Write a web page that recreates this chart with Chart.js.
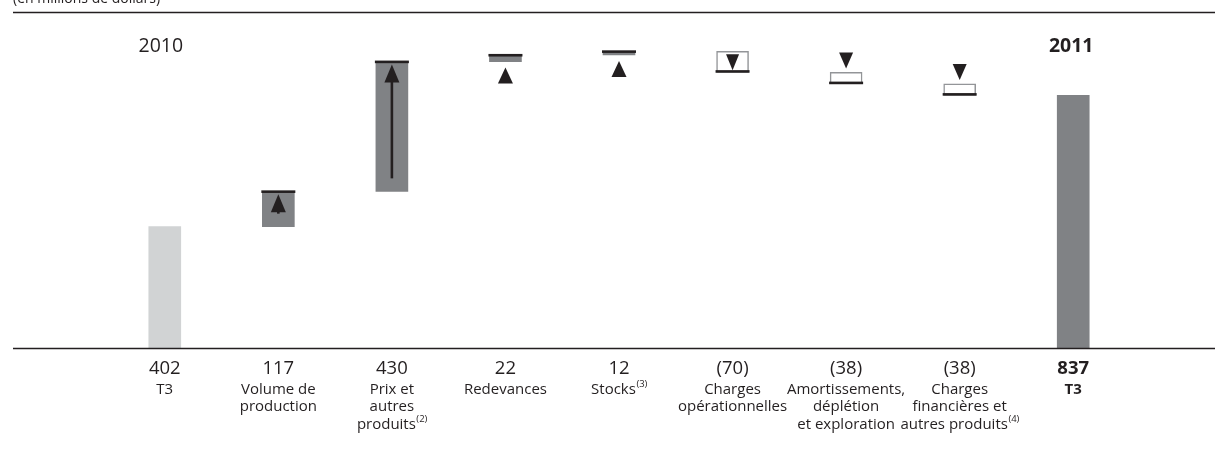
<!DOCTYPE html>
<html>
<head>
<meta charset="utf-8">
<script src="https://cdn.jsdelivr.net/npm/chart.js@4/dist/chart.umd.min.js"></script>
<style>
  html, body { margin: 0; padding: 0; background: #ffffff; }
  #wrap { width: 1215px; height: 459px; position: relative; }
  canvas { display: block; }
</style>
</head>
<body>
<div id="wrap"><canvas id="bridge" width="1215" height="459"></canvas></div>
<script>
// Bénéfice net – passage de T3 2010 à T3 2011 (en millions de dollars)
const categories = ["T3", "Volume de production", "Prix et autres produits", "Redevances", "Stocks",
  "Charges opérationnelles", "Amortissements, déplétion et exploration",
  "Charges financières et autres produits", "T3"];
const labelLines = [
  ["T3"],
  ["Volume de", "production"],
  ["Prix et", "autres", "produits"],
  ["Redevances"],
  ["Stocks"],
  ["Charges", "opérationnelles"],
  ["Amortissements,", "déplétion", "et exploration"],
  ["Charges", "financières et", "autres produits"],
  ["T3"]
];
const footnotes = [null, null, "(2)", null, "(3)", null, null, "(4)", null];
const startValue = 402;
const changes = [117, 430, 22, 12, -70, -38, -38];
const endValue = 837;
const yearLabels = ["2010", "2011"];
const unitNote = "(en millions de dollars)";

const INK = "#231f20";
const FONT = "'Open Sans', 'Noto Sans', sans-serif";
const LABEL_PX = 15;

// floating ranges for the bridge
const ranges = [[0, startValue]];
const kinds = ["start"];
let running = startValue;
changes.forEach(d => {
  const next = running + d;
  ranges.push([Math.min(running, next), Math.max(running, next)]);
  kinds.push(d >= 0 ? "up" : "down");
  running = next;
});
ranges.push([0, endValue]);
kinds.push("end");
const valueText = [startValue, ...changes, endValue].map(v => v < 0 ? "(" + Math.abs(v) + ")" : String(v));

const fill = kinds.map(k => k === "start" ? "#d1d3d4" : k === "down" ? "#ffffff" : "#808285");
const border = kinds.map(k => k === "down" ? "#939598" : "rgba(0,0,0,0)");

function triangle(ctx, cx, yTop, w, h, pointUp) {
  ctx.beginPath();
  if (pointUp) {
    ctx.moveTo(cx, yTop); ctx.lineTo(cx + w / 2, yTop + h); ctx.lineTo(cx - w / 2, yTop + h);
  } else {
    ctx.moveTo(cx - w / 2, yTop); ctx.lineTo(cx + w / 2, yTop); ctx.lineTo(cx, yTop + h);
  }
  ctx.closePath();
  ctx.fill();
}

const bridgeDecor = {
  id: "bridgeDecor",
  afterDatasetsDraw(chart) {
    const ctx = chart.ctx;
    const xs = chart.scales.x, ys = chart.scales.y;
    const meta = chart.getDatasetMeta(0);
    ctx.save();

    // unit note and rules
    ctx.fillStyle = INK;
    ctx.font = "14px " + FONT;
    ctx.textAlign = "left";
    ctx.textBaseline = "alphabetic";
    ctx.fillText(unitNote, 13, 3);
    ctx.strokeStyle = INK;
    ctx.lineWidth = 1.3;
    ctx.beginPath(); ctx.moveTo(13, 12.5); ctx.lineTo(1215, 12.5); ctx.stroke();
    const y0 = ys.getPixelForValue(0);
    ctx.beginPath(); ctx.moveTo(13, y0 + 0.5); ctx.lineTo(1215, y0 + 0.5); ctx.stroke();

    // markers on each change
    kinds.forEach((k, i) => {
      if (k === "start" || k === "end") return;
      const bar = meta.data[i];
      const cx = xs.getPixelForValue(i);
      const half = bar.width / 2;
      const d = changes[i - 1];
      const before = ranges[i][d >= 0 ? 0 : 1];
      const after = ranges[i][d >= 0 ? 1 : 0];
      const yBefore = ys.getPixelForValue(before);
      const yAfter = ys.getPixelForValue(after);
      const hPix = Math.abs(yBefore - yAfter);
      ctx.fillStyle = INK;
      // dark rule at the new running total
      ctx.fillRect(cx - half - 1, (d >= 0 ? yAfter - 1 : yAfter - 2.3), bar.width + 2, 2.6);
      if (d >= 0) {
        if (hPix > 25) {
          const headTop = yAfter + 3;
          triangle(ctx, cx, headTop, 15, 18, true);
          ctx.fillRect(cx - 1.3, headTop + 17, 2.6, Math.max(0, yBefore - 13 - (headTop + 17)));
        } else {
          triangle(ctx, cx, yBefore + 6, 15, 16, true);
        }
      } else {
        if (hPix > 20) {
          triangle(ctx, cx, yBefore + 3, 13, 16, false);
        } else {
          triangle(ctx, cx, yBefore - 20, 14, 16, false);
        }
      }
    });

    // year headings
    ctx.fillStyle = INK;
    ctx.textAlign = "center";
    ctx.textBaseline = "middle";
    ctx.font = "19.5px " + FONT;
    ctx.fillText(yearLabels[0], xs.getPixelForValue(0) - 4, 46);
    ctx.font = "bold 19.5px " + FONT;
    ctx.fillText(yearLabels[1], xs.getPixelForValue(categories.length - 1) - 2, 46);

    // values and category names below the axis
    categories.forEach((c, i) => {
      const cx = xs.getPixelForValue(i);
      const bold = i === categories.length - 1 ? "bold " : "";
      ctx.textAlign = "center";
      ctx.textBaseline = "middle";
      ctx.fillStyle = INK;
      ctx.font = bold + "18.5px " + FONT;
      ctx.fillText(valueText[i], cx, 369);
      ctx.font = bold + LABEL_PX + "px " + FONT;
      const lines = labelLines[i];
      lines.forEach((ln, j) => {
        const y = 389.5 + j * 17.5;
        const note = (j === lines.length - 1) ? footnotes[i] : null;
        if (note) {
          ctx.font = LABEL_PX + "px " + FONT;
          const w1 = ctx.measureText(ln).width;
          ctx.font = "9.5px " + FONT;
          const w2 = ctx.measureText(note).width;
          const left = cx - (w1 + w2) / 2;
          ctx.textAlign = "left";
          ctx.font = LABEL_PX + "px " + FONT;
          ctx.fillText(ln, left, y);
          ctx.font = "9.5px " + FONT;
          ctx.fillText(note, left + w1 + 0.5, y - 5);
          ctx.textAlign = "center";
        } else {
          ctx.fillText(ln, cx, y);
        }
      });
    });
    ctx.restore();
  }
};

new Chart(document.getElementById("bridge"), {
  type: "bar",
  data: {
    labels: categories,
    datasets: [{
      data: ranges,
      backgroundColor: fill,
      borderColor: border,
      borderWidth: kinds.map(k => k === "down" ? 1.5 : 0),
      borderSkipped: false,
      barThickness: 32
    }]
  },
  options: {
    responsive: false,
    devicePixelRatio: 1,
    animation: false,
    layout: { padding: { left: 108, right: 85, top: 16, bottom: 111 } },
    plugins: { legend: { display: false }, tooltip: { enabled: false } },
    scales: {
      x: { display: false, offset: true, grid: { display: false } },
      y: { display: false, min: 0, max: 1100 }
    }
  },
  plugins: [bridgeDecor]
});
</script>
</body>
</html>
